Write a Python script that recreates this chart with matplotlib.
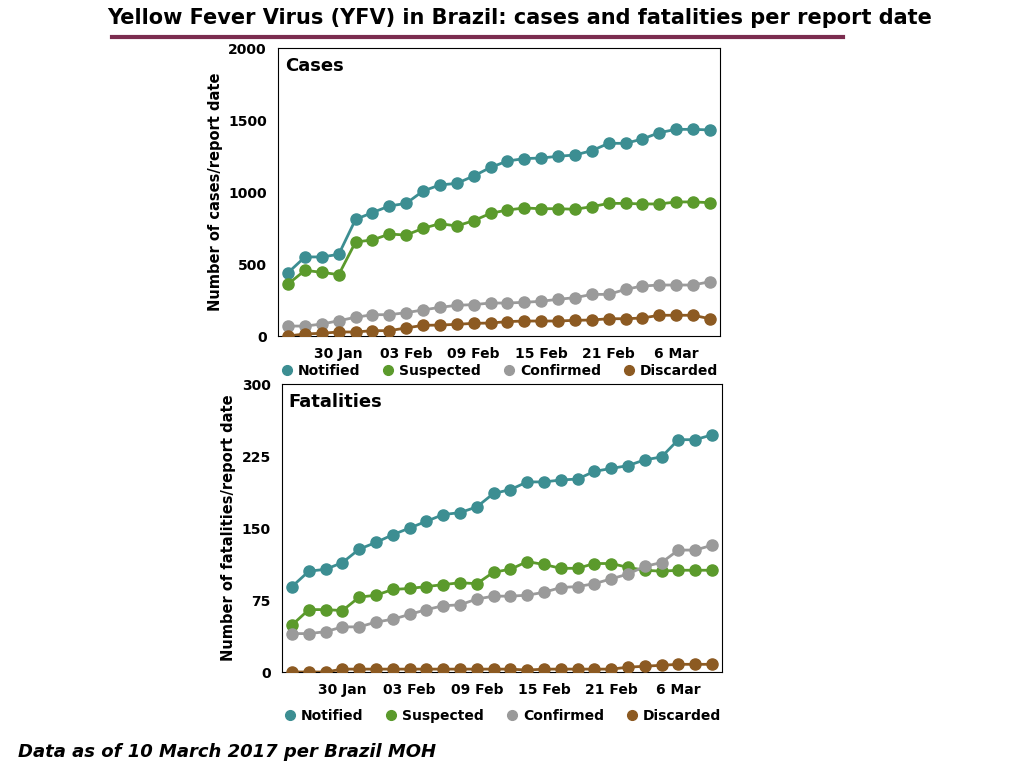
import matplotlib
matplotlib.use('Agg')
import matplotlib.pyplot as plt
from matplotlib.lines import Line2D
import numpy as np

# report dates (26 reports), only some are labelled
tick_pos = [3, 7, 11, 15, 19, 23]
tick_labels = ['30 Jan', '03 Feb', '09 Feb', '15 Feb', '21 Feb', '6 Mar']

cases_notified = [440, 549, 549, 567, 810, 857, 903, 921, 1007, 1049, 1060, 1111, 1171,
                  1215, 1232, 1236, 1248, 1257, 1287, 1338, 1338, 1368, 1412, 1435, 1435, 1431]
cases_suspected = [361, 456, 442, 426, 653, 667, 708, 701, 748, 780, 764, 801, 852,
                   875, 889, 884, 884, 880, 898, 921, 921, 917, 917, 931, 931, 926]
cases_confirmed = [69, 69, 83, 106, 130, 148, 148, 162, 181, 199, 213, 218, 229,
                   229, 234, 241, 255, 266, 289, 289, 324, 347, 354, 354, 354, 377]
cases_discarded = [0, 14, 19, 28, 28, 37, 37, 56, 74, 76, 81, 88, 90,
                   100, 104, 104, 104, 109, 111, 120, 120, 125, 144, 144, 144, 120]

deaths_notified = [89, 105, 107, 114, 128, 135, 143, 150, 157, 164, 166, 172, 186,
                   190, 198, 198, 200, 201, 209, 212, 215, 221, 224, 242, 242, 247]
deaths_suspected = [49, 65, 65, 64, 78, 80, 86, 87, 89, 91, 93, 92, 104,
                    107, 115, 112, 108, 108, 113, 113, 109, 106, 105, 106, 106, 106]
deaths_confirmed = [40, 40, 42, 47, 47, 52, 55, 60, 65, 69, 70, 76, 79,
                    79, 80, 83, 88, 89, 92, 97, 102, 110, 114, 127, 127, 132]
deaths_discarded = [0, 0, 0, 3, 3, 3, 3, 3, 3, 3, 3, 3, 3,
                    3, 2, 3, 3, 3, 3, 3, 5, 6, 7, 8, 8, 8]

names = ['Notified', 'Suspected', 'Confirmed', 'Discarded']
colors = ['#3C8E92', '#5B9A2C', '#9A9A9A', '#8C5A22']

fig = plt.figure(figsize=(10.24, 7.68), dpi=100)


def panel(rect, series, ymax, yticks, title, ylabel, leg_y):
    ax = fig.add_axes(rect)
    x = np.arange(len(series[0]))
    for s, c in zip(series, colors):
        ax.plot(x, s, '-o', color=c, lw=2, ms=8, zorder=3)
    ax.set_xlim(-0.6, 25.6)
    ax.set_ylim(0, ymax)
    ax.set_yticks(yticks)
    ax.set_xticks(tick_pos)
    ax.set_xticklabels(tick_labels)
    ax.tick_params(length=0, labelsize=10, pad=8)
    for lab in ax.get_xticklabels() + ax.get_yticklabels():
        lab.set_fontweight('bold')
    ax.set_ylabel(ylabel, fontsize=10.5, fontweight='bold')
    ax.text(0.015, 0.97, title, transform=ax.transAxes, fontsize=13,
            fontweight='bold', va='top')
    for sp in ax.spines.values():
        sp.set_clip_on(False)
    handles = [Line2D([0], [0], marker='o', color=c, lw=0, ms=7, label=n)
               for n, c in zip(names, colors)]
    leg = fig.legend(handles=handles, loc='center', bbox_to_anchor=(rect[0] + rect[2] / 2, leg_y),
                     ncol=4, frameon=False, fontsize=10, handletextpad=0.3,
                     columnspacing=1.5, handlelength=1)
    for t in leg.get_texts():
        t.set_fontweight('bold')
    return ax


panel([278 / 1024, 1 - 336 / 768, 442 / 1024, 288 / 768],
      [cases_notified, cases_suspected, cases_confirmed, cases_discarded],
      2000, [0, 500, 1000, 1500, 2000], 'Cases', 'Number of cases/report date', 1 - 371 / 768)
panel([282 / 1024, 1 - 672 / 768, 440 / 1024, 288 / 768],
      [deaths_notified, deaths_suspected, deaths_confirmed, deaths_discarded],
      300, [0, 75, 150, 225, 300], 'Fatalities', 'Number of fatalities/report date', 1 - 716 / 768)

fig.text(0.507, 1 - 18 / 768, 'Yellow Fever Virus (YFV) in Brazil: cases and fatalities per report date',
         ha='center', va='center', fontsize=15, fontweight='bold')
fig.add_artist(Line2D([112 / 1024, 843 / 1024], [1 - 37 / 768] * 2, color='#7B2C4F', lw=3))
fig.text(18 / 1024, 1 - 752 / 768, 'Data as of 10 March 2017 per Brazil MOH',
         fontsize=13, fontweight='bold', fontstyle='italic', va='center')

fig.savefig('out.png', dpi=100, facecolor='white')
